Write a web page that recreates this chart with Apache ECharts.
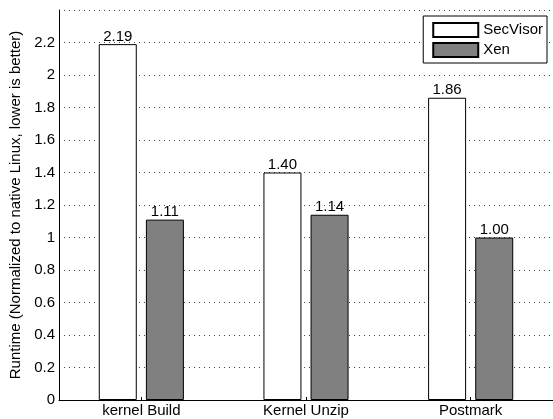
<!DOCTYPE html>
<html><head><meta charset="utf-8">
<script src="https://cdn.jsdelivr.net/npm/echarts@6/dist/echarts.min.js"></script>
<style>html,body{margin:0;padding:0;background:#fff}#c{width:553px;height:419px}</style>
</head><body><div id="c"></div>
<script>
const categories = ['kernel Build', 'Kernel Unzip', 'Postmark'];
const secVisor = [2.19, 1.40, 1.86];
const xen = [1.11, 1.14, 1.00];
const yTicks = [0, 0.2, 0.4, 0.6, 0.8, 1, 1.2, 1.4, 1.6, 1.8, 2, 2.2];
const yName = 'Runtime (Normalized to native Linux, lower is better)';

const font = "'Liberation Sans', Arial, Helvetica, sans-serif";
const chart = echarts.init(document.getElementById('c'), null, {renderer: 'canvas'});
const lbl = {show: true, position: 'top', distance: 0, color: '#000', fontSize: 15, fontFamily: font,
  formatter: p => p.value.toFixed(2)};
chart.setOption({
  animation: false,
  textStyle: {fontFamily: font},
  grid: {left: 59, right: -1, top: 10, bottom: 19},
  legend: {
    right: 6, top: 16, orient: 'vertical', backgroundColor: '#fff',
    borderColor: '#000', borderWidth: 1, borderRadius: 0,
    padding: [6, 4, 5, 9], itemGap: 4, itemWidth: 45, itemHeight: 14,
    textStyle: {fontSize: 15, color: '#000', fontFamily: font, lineHeight: 14},
    data: [{name: 'SecVisor', icon: 'rect'}, {name: 'Xen', icon: 'rect'}]
  },
  xAxis: {
    type: 'category', data: categories,
    axisLine: {lineStyle: {color: '#000', width: 1}},
    axisTick: {show: true, inside: true, alignWithLabel: true, length: 3, lineStyle: {color: '#000'}},
    axisLabel: {color: '#000', fontSize: 15, margin: 3, fontFamily: font}
  },
  yAxis: {
    type: 'value', min: 0, max: 2.4, interval: 0.2,
    name: yName, nameLocation: 'middle', nameGap: 34,
    nameTextStyle: {color: '#000', fontSize: 15, fontFamily: font},
    axisLine: {show: true, lineStyle: {color: '#000', width: 1}},
    axisTick: {show: false},
    axisLabel: {color: '#000', fontSize: 15, margin: 4, fontFamily: font,
      formatter: v => yTicks.some(t => Math.abs(t - v) < 1e-6) ? String(+v.toFixed(1)) : ''},
    splitLine: {show: true, lineStyle: {color: '#444', type: [1, 4], width: 1}}
  },
  series: [
    {name: 'SecVisor', type: 'bar', data: secVisor, barWidth: 38, barGap: '24%',
      itemStyle: {color: '#fff', borderColor: '#000', borderWidth: 1}, label: lbl},
    {name: 'Xen', type: 'bar', data: xen, barWidth: 38,
      itemStyle: {color: '#808080', borderColor: '#000', borderWidth: 1}, label: lbl}
  ]
});
</script></body></html>
